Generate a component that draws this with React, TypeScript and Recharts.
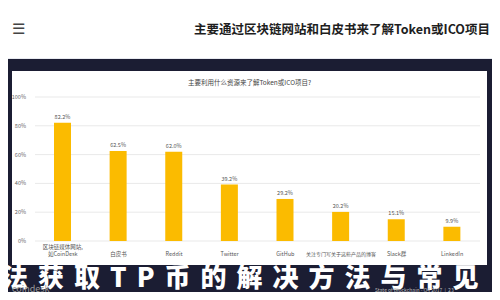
import { BarChart, Bar, XAxis, YAxis, CartesianGrid, LabelList } from 'recharts'

const categories = ['区块链媒体网站,\n如CoinDesk', '白皮书', 'Reddit', 'Twitter', 'GitHub', '关注专门写关于这些产品的博客', 'Slack群', 'LinkedIn']
const shares = [82.2, 62.5, 62.0, 39.2, 29.2, 20.2, 15.1, 9.9]
const yTicks = [0, 20, 40, 60, 80, 100]

const data = categories.map((name, i) => ({ name, value: shares[i] }))

const NAVY = '#1b1d33'
const font = '"Noto Sans CJK SC", "Noto Sans", sans-serif'

function CategoryTick({ x, y, payload }: any) {
  const lines = String(payload.value).split('\n')
  const long = lines.length === 1 && lines[0].length > 8
  return (
    <text x={x} y={lines.length > 1 ? y : y + 7} textAnchor="middle" fontSize={long ? 5 : 5.5} fill="#555" fontFamily={font}>
      {lines.map((l, i) => (
        <tspan key={i} x={x} dy={i === 0 ? 0 : 6.5}>{l}</tspan>
      ))}
    </text>
  )
}

export default function App() {
  return (
    <div style={{ position: 'relative', width: 500, height: 300, overflow: 'hidden', background: NAVY, fontFamily: font, margin: -8 }}>
      <div style={{ position: 'absolute', left: 0, top: 0, width: 500, height: 58, background: '#fff', borderBottom: '1px solid #e8eaf0' }}>
        <div style={{ position: 'absolute', left: 12, top: 17, fontSize: 15, color: '#444' }}>☰</div>
        <div style={{ position: 'absolute', right: 10, top: 19, fontSize: 12.5, fontWeight: 700, color: '#1e1e1e' }}>
          主要通过区块链网站和白皮书来了解Token或ICO项目
        </div>
      </div>
      <div style={{ position: 'absolute', left: 12, top: 71, width: 475, height: 194, background: '#fff' }}>
        <div style={{ position: 'absolute', left: 0, top: 6, width: 475, textAlign: 'center', fontSize: 6.5, color: '#444' }}>
          主要利用什么资源来了解Token或ICO项目?
        </div>
        <BarChart width={475} height={194} data={data} margin={{ top: 26, right: 7, bottom: 0, left: 2 }}>
          <CartesianGrid vertical={false} stroke="#e9e9e9" />
          <YAxis
            domain={[0, 100]}
            ticks={yTicks}
            tickFormatter={v => `${v}%`}
            width={21}
            axisLine={false}
            tickLine={false}
            tickMargin={3}
            tick={{ fontSize: 5.5, fill: '#666' }}
          />
          <XAxis dataKey="name" axisLine={false} tickLine={false} interval={0} height={24} tick={<CategoryTick />} />
          <Bar dataKey="value" fill="#fbbb00" barSize={17} isAnimationActive={false}>
            <LabelList dataKey="value" position="top" offset={4} formatter={(v: any) => `${Number(v).toFixed(1)}%`} style={{ fontSize: 5.5, fill: '#555' }} />
          </Bar>
        </BarChart>
      </div>
      <div style={{ position: 'absolute', left: 2, top: 257, width: 500, fontSize: 26, fontWeight: 900, color: '#fff', letterSpacing: 10, whiteSpace: 'nowrap' }}>
        法获取TP币的解决方法与常见
      </div>
      <div style={{ position: 'absolute', left: 12, top: 282, fontSize: 9, color: '#9a9a9a' }}>coindesk</div>
      <div style={{ position: 'absolute', left: 375, top: 286, fontSize: 5, color: '#bbb' }}>State of Blockchain - Q4 2017&nbsp;&nbsp;|&nbsp;&nbsp;23</div>
    </div>
  )
}
